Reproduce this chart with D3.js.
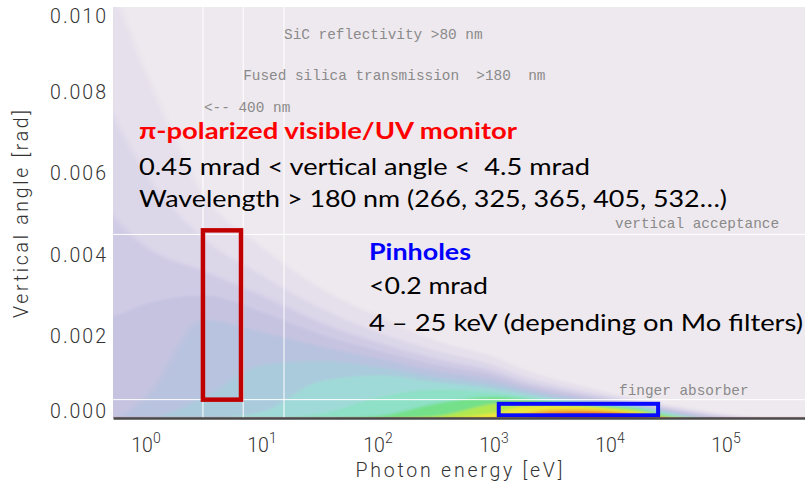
<!DOCTYPE html>
<html>
<head>
<meta charset="utf-8">
<script src="https://cdn.jsdelivr.net/npm/d3@7"></script>
<style>
  html, body { margin: 0; padding: 0; background: #ffffff; }
  svg { display: block; }
  .mono { font-family: "Liberation Mono", "Courier New", monospace; font-size: 14.4px; fill: #8a8a8a; white-space: pre; }
  .note { font-family: Lato, "Open Sans", sans-serif; font-size: 23px; fill: #000; white-space: pre; }
  .tick-label { font-family: Roboto, "Liberation Sans", sans-serif; font-weight: 300; fill: #333; }
</style>
</head>
<body>
<svg id="chart" width="805" height="485"></svg>
<script>
// Photon energies (eV) at which the intensity contours are sampled
const energies = [0.3, 0.5, 1, 3.16, 10, 31.6, 100, 316, 1000, 1778, 3162, 5623, 10000, 17783, 31623, 56234, 100000, 177828, 316228, 800000];

// Vertical angle (mrad) reached by each intensity level at the energies above, low level first
const contourAngles = [
  [11.0, 10.5, 8.5, 5.5, 4.2, 3.2, 2.5, 1.9, 1.5, 1.2, 0.98, 0.8, 0.62, 0.46, 0.33, 0.21, 0.11, 0.03, 0, 0],
  [8.5, 7.5, 6.0, 4.4, 3.5, 2.7, 2.1, 1.65, 1.3, 1.03, 0.84, 0.68, 0.54, 0.41, 0.28, 0.16, 0.06, 0, 0, 0],
  [5.8, 5.0, 4.2, 3.6, 3.0, 2.35, 1.85, 1.45, 1.15, 0.91, 0.74, 0.6, 0.48, 0.37, 0.24, 0.12, 0.03, 0, 0, 0],
  [3.0, 2.5, 2.8, 3.0, 2.6, 2.05, 1.65, 1.3, 1.05, 0.82, 0.66, 0.54, 0.44, 0.34, 0.21, 0.09, 0, 0, 0, 0],
  [0, 0, 0.5, 2.4, 2.1, 1.75, 1.45, 1.15, 0.93, 0.74, 0.59, 0.49, 0.4, 0.31, 0.18, 0.06, 0, 0, 0, 0],
  [0, 0, 0, 0.5, 1.3, 1.4, 1.25, 1.0, 0.82, 0.66, 0.53, 0.44, 0.37, 0.29, 0.15, 0.03, 0, 0, 0, 0],
  [0, 0, 0, 0, 0.15, 0.9, 1.05, 0.88, 0.72, 0.59, 0.48, 0.4, 0.34, 0.27, 0.12, 0.01, 0, 0, 0, 0],
  [0, 0, 0, 0, 0, 0.1, 0.5, 0.7, 0.62, 0.53, 0.44, 0.37, 0.31, 0.25, 0.09, 0, 0, 0, 0, 0],
  [0, 0, 0, 0, 0, 0, 0.05, 0.35, 0.52, 0.47, 0.4, 0.34, 0.29, 0.22, 0.06, 0, 0, 0, 0, 0],
  [0, 0, 0, 0, 0, 0, 0, 0.05, 0.35, 0.4, 0.35, 0.31, 0.26, 0.19, 0.03, 0, 0, 0, 0, 0],
  [0, 0, 0, 0, 0, 0, 0, 0, 0.12, 0.28, 0.3, 0.28, 0.22, 0.15, 0.01, 0, 0, 0, 0, 0],
  [0, 0, 0, 0, 0, 0, 0, 0, 0, 0.1, 0.2, 0.21, 0.17, 0.1, 0, 0, 0, 0, 0, 0],
  [0, 0, 0, 0, 0, 0, 0, 0, 0, 0, 0.12, 0.15, 0.13, 0.06, 0, 0, 0, 0, 0, 0],
  [0, 0, 0, 0, 0, 0, 0, 0, 0, 0, 0.02, 0.08, 0.09, 0.03, 0, 0, 0, 0, 0, 0]
];

// Colour of each intensity level
const levelColors = ["#e6e0ec", "#dcd6e9", "#d0cbe5", "#c5c3e0", "#b8c3df", "#aacbdc", "#a0dad8",
                     "#8ee0c6", "#74e08a", "#b4e850", "#ece63c", "#f4b030", "#f07028", "#e02a2a"];
const backgroundColor = "#eee9ee";

// Axis ticks
const energyTicks = [1, 10, 100, 1000, 10000, 100000];
const angleTicks = [0, 0.002, 0.004, 0.006, 0.008, 0.010];

// Reference cut-offs: wavelength limits (eV) and angular limits (rad)
const wavelengthLines = [3.1, 6.89, 15.5];
const angleLines = [0.0045, 0.00045];

// Acceptance windows
const visibleBox = { eMin: 3.1, eMax: 6.6, aMin: 0.00045, aMax: 0.0046 };
const pinholeBox = { eMin: 1100, eMax: 26000, aMin: 0.000066, aMax: 0.000348 };

const svg = d3.select("#chart");
const x = d3.scaleLog().domain([0.52, 4.8e5]).range([113, 805]);
const y = d3.scaleLinear().domain([0, 0.010075]).range([418, 7]);
const [xl, xr] = x.range();
const [yb, yt] = y.range();

const defs = svg.append("defs");
defs.append("clipPath").attr("id", "plot-clip")
  .append("rect").attr("x", xl).attr("y", yt).attr("width", xr - xl).attr("height", yb - yt);
defs.append("filter").attr("id", "soft")
  .attr("filterUnits", "userSpaceOnUse")
  .attr("x", 0).attr("y", -60).attr("width", 900).attr("height", 560)
  .append("feGaussianBlur").attr("stdDeviation", "3 1.2");

// Intensity map: nested filled contours, softened
const mapLayer = svg.append("g").attr("clip-path", "url(#plot-clip)")
  .append("g").attr("filter", "url(#soft)");
mapLayer.append("rect").attr("x", 0).attr("y", -50).attr("width", 900).attr("height", 540)
  .attr("fill", backgroundColor);

const band = d3.area()
  .x(d => x(d.e))
  .y0(y(-0.0001))
  .y1(d => y(d.a * 1e-3))
  .curve(d3.curveMonotoneX);

contourAngles.forEach((row, i) => {
  const pts = energies.map((e, j) => ({ e, a: row[j] }));
  mapLayer.append("path").attr("d", band(pts)).attr("fill", levelColors[i]);
});

// White reference lines
const lines = svg.append("g").attr("clip-path", "url(#plot-clip)");
lines.selectAll("line.v").data(wavelengthLines).join("line")
  .attr("x1", d => x(d)).attr("x2", d => x(d))
  .attr("y1", yt).attr("y2", yb)
  .attr("stroke", "#ffffff").attr("stroke-width", 1);
lines.selectAll("line.h").data(angleLines).join("line")
  .attr("x1", xl).attr("x2", xr)
  .attr("y1", d => y(d)).attr("y2", d => y(d))
  .attr("stroke", "#ffffff").attr("stroke-width", 1);

// Grey plot annotations
const mono = svg.append("g");
mono.append("text").attr("class", "mono").attr("x", x(15.5)).attr("y", 39).text("SiC reflectivity >80 nm");
mono.append("text").attr("class", "mono").attr("x", x(6.89)).attr("y", 80).text("Fused silica transmission  >180  nm");
mono.append("text").attr("class", "mono").attr("x", x(3.1) + 1).attr("y", 112).text("<-- 400 nm");
mono.append("text").attr("class", "mono").attr("x", 615).attr("y", y(0.0045) - 6).text("vertical acceptance");
mono.append("text").attr("class", "mono").attr("x", 619).attr("y", y(0.00045) - 5).text("finger absorber");

// Acceptance boxes
svg.append("rect")
  .attr("x", x(visibleBox.eMin)).attr("y", y(visibleBox.aMax))
  .attr("width", x(visibleBox.eMax) - x(visibleBox.eMin))
  .attr("height", y(visibleBox.aMin) - y(visibleBox.aMax))
  .attr("fill", "none").attr("stroke", "#c00000").attr("stroke-width", 4.5);
svg.append("rect")
  .attr("x", x(pinholeBox.eMin)).attr("y", y(pinholeBox.aMax))
  .attr("width", x(pinholeBox.eMax) - x(pinholeBox.eMin))
  .attr("height", y(pinholeBox.aMin) - y(pinholeBox.aMax))
  .attr("fill", "none").attr("stroke", "#0a0aff").attr("stroke-width", 4);

// X axis
const xAxis = svg.append("g").attr("transform", `translate(0,${yb})`)
  .call(d3.axisBottom(x).tickValues(energyTicks).tickSize(0).tickFormat(""));
xAxis.select(".domain").attr("stroke", "#4a4a4a").attr("stroke-width", 2.5);
xAxis.selectAll(".tick text").remove();
const xLabels = svg.append("g");
energyTicks.forEach(v => {
  const t = xLabels.append("text").attr("class", "tick-label")
    .attr("x", x(v)).attr("y", 452).attr("text-anchor", "middle")
    .style("font-size", "19.5px");
  t.append("tspan").text("10");
  t.append("tspan").attr("dy", -9).style("font-size", "14px").text(String(Math.round(Math.log10(v))));
});

// Y axis
const yAxis = svg.append("g").attr("transform", `translate(${xl},0)`)
  .call(d3.axisLeft(y).tickValues(angleTicks).tickSize(0).tickFormat(""));
yAxis.select(".domain").remove();
yAxis.selectAll(".tick text").remove();
svg.append("g").selectAll("text").data(angleTicks).join("text")
  .attr("class", "tick-label")
  .attr("x", xl - 5)
  .attr("y", d => Math.min(Math.max(y(d), yt + 9), yb - 7))
  .attr("dy", "0.36em")
  .attr("text-anchor", "end")
  .style("font-size", "19.5px").style("letter-spacing", "2px")
  .text(d => d3.format(".3f")(d));

// Axis titles
svg.append("text").attr("class", "tick-label")
  .attr("x", (xl + xr) / 2).attr("y", 477).attr("text-anchor", "middle")
  .style("font-size", "19.5px")
  .attr("textLength", 207).attr("lengthAdjust", "spacing")
  .text("Photon energy [eV]");
svg.append("text").attr("class", "tick-label")
  .attr("transform", "translate(28,214) rotate(-90)")
  .attr("text-anchor", "middle")
  .style("font-size", "19.5px")
  .attr("textLength", 208).attr("lengthAdjust", "spacing")
  .text("Vertical angle [rad]");

// Explanatory notes
const notes = svg.append("g");
notes.append("text").attr("class", "note").attr("x", 139).attr("y", 139)
  .style("fill", "#ff0000").style("font-weight", "bold")
  .attr("textLength", 378).attr("lengthAdjust", "spacingAndGlyphs")
  .text("π-polarized visible/UV monitor");
notes.append("text").attr("class", "note").attr("x", 139).attr("y", 175)
  .attr("textLength", 451).attr("lengthAdjust", "spacingAndGlyphs")
  .text("0.45 mrad < vertical angle <  4.5 mrad");
notes.append("text").attr("class", "note").attr("x", 139).attr("y", 207)
  .attr("textLength", 588).attr("lengthAdjust", "spacingAndGlyphs")
  .text("Wavelength > 180 nm (266, 325, 365, 405, 532…)");
notes.append("text").attr("class", "note").attr("x", 369).attr("y", 260)
  .style("fill", "#0000ff").style("font-weight", "bold")
  .attr("textLength", 102).attr("lengthAdjust", "spacingAndGlyphs")
  .text("Pinholes");
notes.append("text").attr("class", "note").attr("x", 369).attr("y", 294)
  .attr("textLength", 119).attr("lengthAdjust", "spacingAndGlyphs")
  .text("<0.2 mrad");
notes.append("text").attr("class", "note").attr("x", 369).attr("y", 331)
  .attr("textLength", 434).attr("lengthAdjust", "spacingAndGlyphs")
  .text("4 – 25 keV (depending on Mo filters)");
</script>
</body>
</html>
